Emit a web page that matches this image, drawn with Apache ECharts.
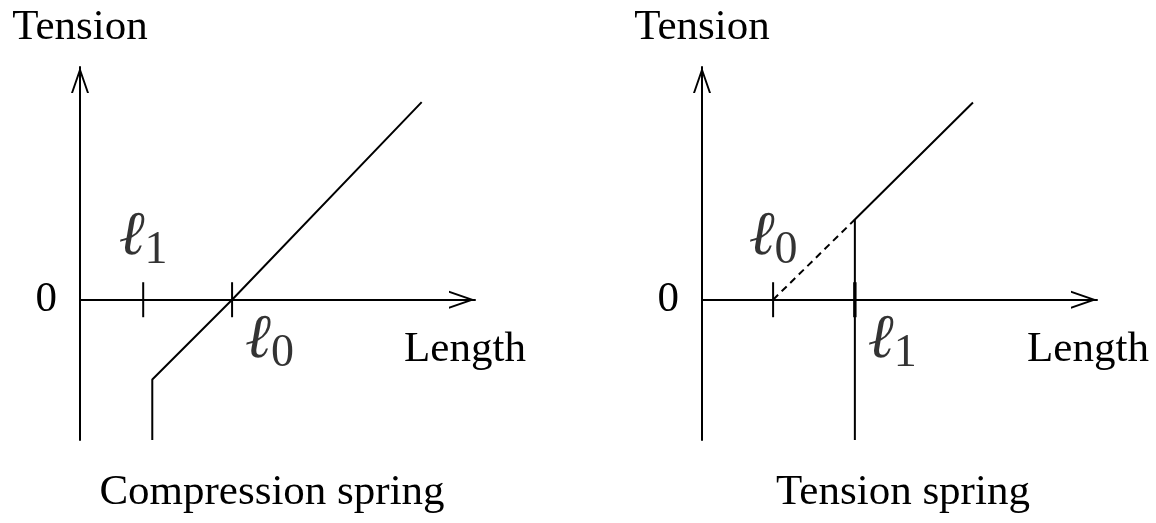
<!DOCTYPE html>
<html>
<head>
<meta charset="utf-8">
<script src="https://cdn.jsdelivr.net/npm/echarts@6/dist/echarts.min.js"></script>
<style>
  html, body { margin: 0; padding: 0; background: #fff; }
  #main { width: 1156px; height: 523px; }
</style>
</head>
<body>
<div id="main"></div>
<script>
// axis ranges (arbitrary length / tension units)
const yRange = [-3.55, 5.89];
const xRange = [0, 10];

// compression spring: ticks l1, l0 and the tension curve
const leftTickX = [1.6, 3.85];
const leftTickNames = ['1', '0'];
const leftCurve = [[1.83, -3.55], [1.83, -2.02], [3.85, 0], [8.65, 5.0]];

// tension spring: ticks l0, l1, solid curve and dashed extension
const rightTickX = [1.8, 3.87];
const rightTickNames = ['0', '1'];
const rightSolid = [[3.87, -3.55], [3.87, 2.03], [6.86, 4.99]];
const rightDashed = [[1.8, 0], [3.87, 2.03]];

const titles = ['Compression spring', 'Tension spring'];

const serif = "'Liberation Serif', 'Times New Roman', serif";
const ink = '#000';
const lw = 2;
const fs = 43;

const grids = [
  { left: 80, top: 67, width: 395, height: 373 },
  { left: 702, top: 67, width: 395, height: 373 }
];

// open arrow head, drawn as a thin filled chevron
const chevron = 'path://M0,26 L9,0 L18,26 L16,26 L9,5.8 L2,26 Z';
const axisLine = {
  show: true,
  symbol: ['none', chevron],
  symbolSize: [18, 26],
  symbolOffset: [0, -13],
  lineStyle: { color: ink, width: lw }
};

const myChart = echarts.init(document.getElementById('main'));

const plain = (gi, data, extra) => Object.assign({
  type: 'line',
  xAxisIndex: gi,
  yAxisIndex: gi,
  data: data,
  symbol: 'none',
  silent: true,
  clip: false,
  animation: false,
  lineStyle: { color: ink, width: lw }
}, extra || {});

const series = [];
const xAxes = [];
const yAxes = [];

const panels = [
  { ticks: leftTickX, names: leftTickNames, lines: [leftCurve], dashed: [] },
  { ticks: rightTickX, names: rightTickNames, lines: [rightSolid], dashed: [rightDashed] }
];

panels.forEach((p, gi) => {
  const g = grids[gi];
  const uy = g.height / (yRange[1] - yRange[0]);

  xAxes.push({
    type: 'value', gridIndex: gi, min: xRange[0], max: xRange[1],
    axisLine: Object.assign({ onZero: true }, axisLine),
    axisTick: { show: false }, axisLabel: { show: false }, splitLine: { show: false }
  });
  yAxes.push({
    type: 'value', gridIndex: gi, min: yRange[0], max: yRange[1],
    name: 'Tension', nameLocation: 'end', nameGap: 18,
    nameTextStyle: { fontFamily: serif, fontSize: fs, color: ink, align: 'center' },
    axisLine: Object.assign({ onZero: false }, axisLine),
    axisTick: { show: false },
    axisLabel: { show: true, customValues: [0], margin: 23, fontFamily: serif, fontSize: fs, color: ink },
    splitLine: { show: false }
  });

  p.lines.forEach(d => series.push(plain(gi, d)));
  p.dashed.forEach(d => series.push(plain(gi, d, { lineStyle: { color: ink, width: lw, type: [7, 5] } })));

  // tick marks crossing the length axis (heavier where a vertical branch runs through)
  const th = 17.5 / uy;
  p.ticks.forEach(x => {
    const onBranch = p.lines.some(d => d[0][0] === x && d[1][0] === x);
    series.push(plain(gi, [[x, -th], [x, th]], { lineStyle: { color: ink, width: onBranch ? 3.4 : lw } }));
  });

  // ell labels
  series.push({
    type: 'scatter', xAxisIndex: gi, yAxisIndex: gi, symbolSize: 0, silent: true, animation: false,
    data: p.ticks.map((x, i) => ({
      value: [x, 0],
      label: i === 0
        ? { show: true, position: 'top', distance: 18, formatter: '{l|ℓ}{s|' + p.names[i] + '}' }
        : { show: true, position: [13, 10], align: 'left', verticalAlign: 'top', formatter: '{l|ℓ}{s|' + p.names[i] + '}' }
    })),
    label: {
      color: ink,
      rich: {
        l: { fontFamily: serif, fontStyle: 'italic', fontSize: 62, color: ink, padding: [0, 0, 13, 0] },
        s: { fontFamily: serif, fontSize: 46, color: ink, padding: [14, 0, 0, 0] }
      }
    }
  });
});

const text = (x, y, t) => ({
  type: 'text', x: x, y: y,
  style: { text: t, font: fs + 'px ' + serif, fill: ink, textAlign: 'center', textVerticalAlign: 'middle' }
});

const option = {
  animation: false,
  grid: grids,
  xAxis: xAxes,
  yAxis: yAxes,
  series: series,
  graphic: [
    text(465, 350, 'Length'),
    text(1088, 350, 'Length'),
    text(272, 493, titles[0]),
    text(903, 493, titles[1])
  ]
};

myChart.setOption(option);
</script>
</body>
</html>
